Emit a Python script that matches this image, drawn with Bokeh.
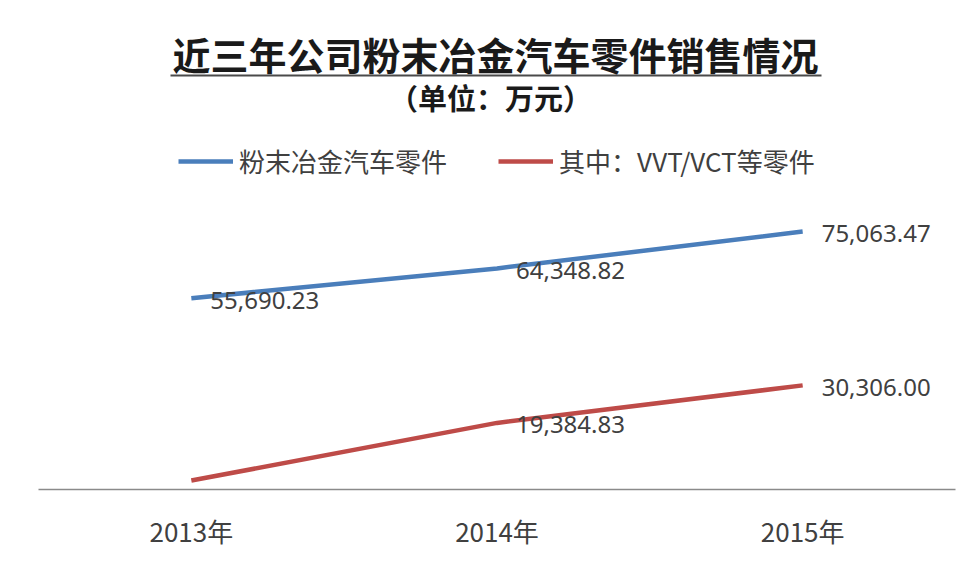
from bokeh.plotting import figure
from bokeh.models import FactorRange, Range1d, ColumnDataSource, LabelSet, Label, BoxAnnotation
from bokeh.core.properties import value
from bokeh.embed import file_html
from bokeh.resources import INLINE

# ---- data ----
years = ["2013年", "2014年", "2015年"]
total_parts = [55690.23, 64348.82, 75063.47]
vvt_parts = [2600.0, 19384.83, 30306.00]
total_show_label = [True, True, True]
vvt_show_label = [False, True, True]
series_names = ["粉末冶金汽车零件", "其中：VVT/VCT等零件"]
title_text = "近三年公司粉末冶金汽车零件销售情况"
subtitle_text = "（单位：万元）"

BLUE = "#4A7EBB"
RED = "#BE4B48"
CJK = "Noto Sans CJK SC"

p = figure(width=956, height=556, x_range=FactorRange(*years, range_padding=0),
           y_range=Range1d(0, 140000), output_backend="svg", toolbar_location=None,
           title=None, min_border_left=38, min_border_right=1, min_border_top=8,
           min_border_bottom=67)
p.outline_line_color = None
p.xgrid.visible = False
p.ygrid.visible = False
p.yaxis.visible = False
p.xaxis.axis_line_color = "#8a8a8a"
p.xaxis.axis_line_width = 1.5
p.xaxis.major_tick_line_color = None
p.xaxis.minor_tick_line_color = None
p.xaxis.major_tick_out = 0
p.xaxis.major_label_standoff = 22
p.xaxis.major_label_text_font = CJK
p.xaxis.major_label_text_font_size = "26px"
p.xaxis.major_label_text_color = "#404040"

src_total = ColumnDataSource(dict(x=years, y=total_parts,
                                  label=[f"{v:,.2f}" if s else "" for v, s in zip(total_parts, total_show_label)]))
src_vvt = ColumnDataSource(dict(x=years, y=vvt_parts,
                                label=[f"{v:,.2f}" if s else "" for v, s in zip(vvt_parts, vvt_show_label)]))

p.line("x", "y", source=src_total, line_color=BLUE, line_width=4.5, legend_label=series_names[0])
p.line("x", "y", source=src_vvt, line_color=RED, line_width=4.5, legend_label=series_names[1])

for src in (src_total, src_vvt):
    p.add_layout(LabelSet(x="x", y="y", text="label", source=src, x_offset=19, y_offset=-2,
                          text_align="left", text_baseline="middle", text_font=value("Noto Sans"),
                          text_font_size="24px", text_color="#404040"))

p.legend.location = (140, 310)
p.legend.orientation = "horizontal"
p.legend.border_line_color = None
p.legend.background_fill_alpha = 0
p.legend.padding = 0
p.legend.margin = 0
p.legend.spacing = 51
p.legend.glyph_width = 55
p.legend.glyph_height = 30
p.legend.label_height = 30
p.legend.label_standoff = 6
p.legend.label_text_font = CJK
p.legend.label_text_font_size = "26px"
p.legend.label_text_color = "#404040"

p.add_layout(Label(x=457, y=436, x_units="screen", y_units="screen", text=title_text,
                   text_align="center", text_baseline="middle", text_font=CJK,
                   text_font_style="bold", text_font_size="38px", text_color="#1a1a1a"))
p.add_layout(BoxAnnotation(left=132, right=783, bottom=413, top=415,
                           left_units="screen", right_units="screen",
                           bottom_units="screen", top_units="screen",
                           fill_color="#4a4a4a", fill_alpha=1, line_color=None))
p.add_layout(Label(x=452, y=393, x_units="screen", y_units="screen", text=subtitle_text,
                   text_align="center", text_baseline="middle", text_font=CJK,
                   text_font_style="bold", text_font_size="29px", text_color="#1a1a1a"))

open("out.html", "w").write(file_html(p, INLINE))
